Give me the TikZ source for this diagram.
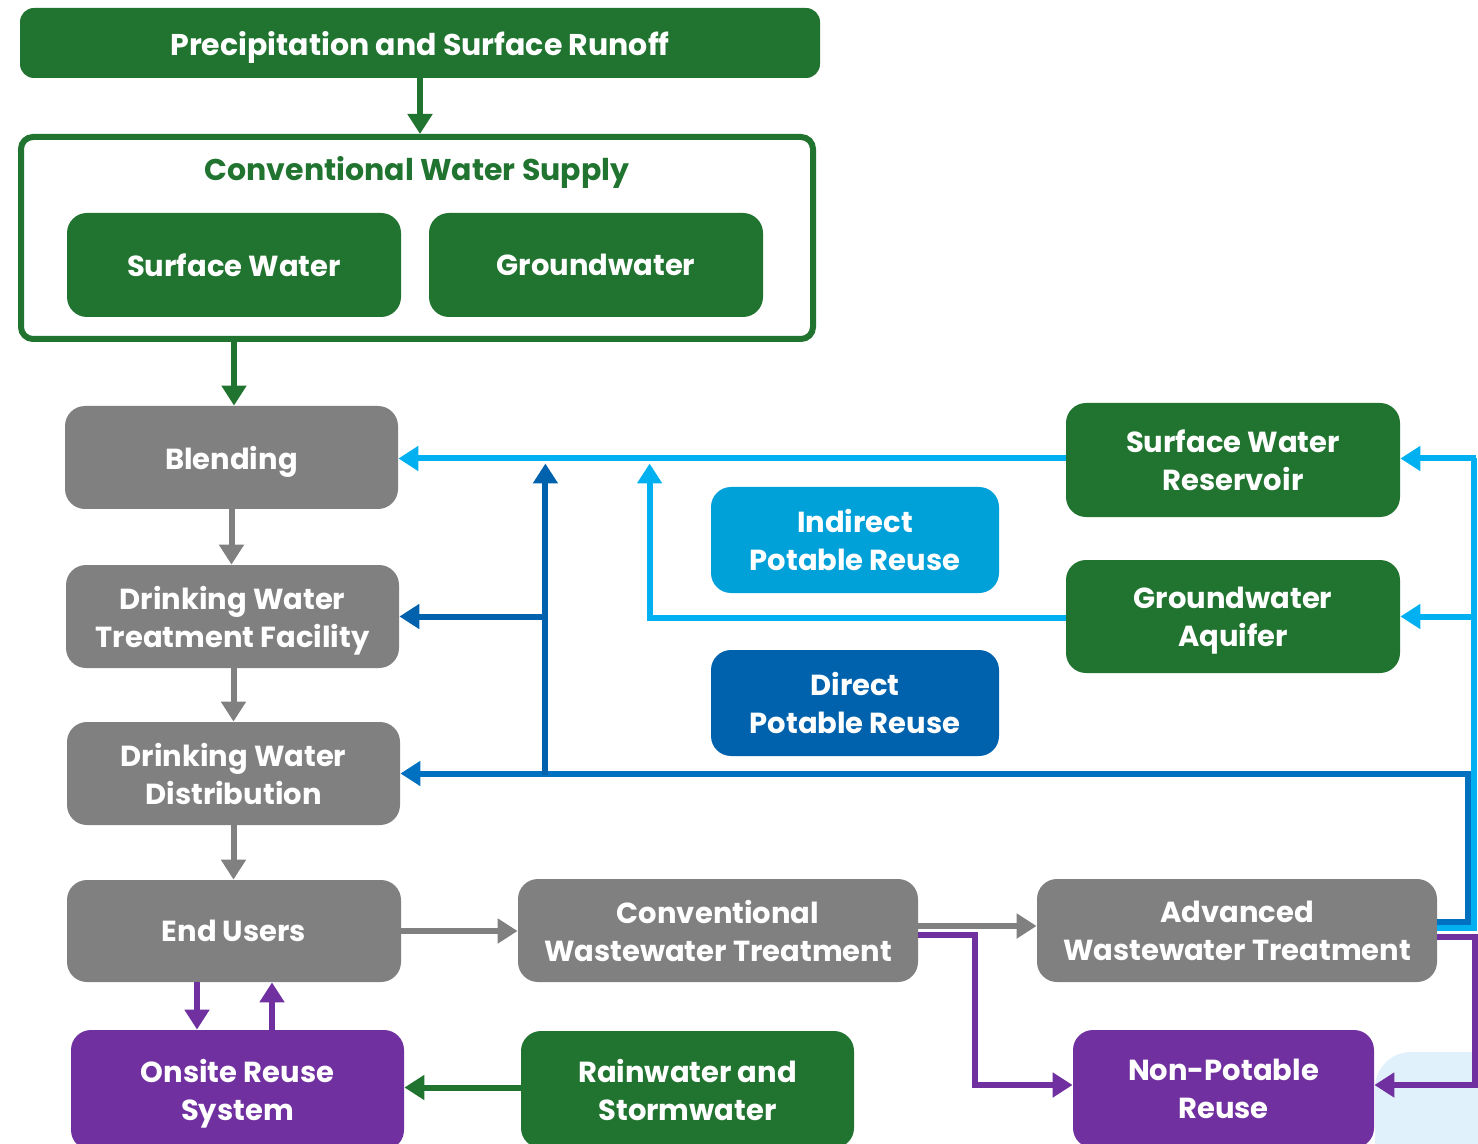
\documentclass[tikz,border=0pt]{standalone}
\usepackage{fontspec}
\setmainfont{Poppins}
\usetikzlibrary{arrows.meta,calc}
\definecolor{dgreen}{HTML}{217330}
\definecolor{dgray}{HTML}{808080}
\definecolor{lblue}{HTML}{00B0F0}
\definecolor{mblue}{HTML}{0070C0}
\definecolor{dblue}{HTML}{0062AC}
\definecolor{iblue}{HTML}{00A0D8}
\definecolor{purp}{HTML}{7030A0}
\definecolor{pool}{HTML}{E0F1FB}
\tikzset{
  box/.style={rounded corners=10pt, text=white, align=center, inner sep=0pt,
    font=\fontsize{14.5}{19}\selectfont\bfseries, text depth=0pt},
  gbox/.style={box, fill=dgreen},
  graybox/.style={box, fill=dgray},
  pbox/.style={box, fill=purp},
  ln/.style={line width=3pt},
  arr/.style={ln, -{Triangle[length=10pt,width=12pt]}},
}
\begin{document}
\begin{tikzpicture}[x=0.5pt,y=-0.5pt]
\useasboundingbox (0,0) rectangle (1478,1144);
% pool
\fill[pool, rounded corners=18pt] (1375,1052) rectangle (1520,1220);
% top
\node[gbox, rounded corners=7pt, minimum width=400pt, minimum height=35pt, font=\fontsize{15}{19}\selectfont\bfseries] (precip) at (420,43) {Precipitation and Surface Runoff};
\node[draw=dgreen, line width=3pt, rounded corners=6pt, minimum width=396pt, minimum height=101pt, inner sep=0pt] (conv) at (417,238) {};
\node[text=dgreen, font=\fontsize{15}{19}\selectfont\bfseries, inner sep=0pt] (convt) at (417,172) {Conventional Water Supply};
\node[gbox, minimum width=167pt, minimum height=52pt] (sw) at (234,265) {Surface Water};
\node[gbox, minimum width=167pt, minimum height=52pt] (gw) at (596,265) {Groundwater};
% left column
\node[graybox, minimum width=166.5pt, minimum height=51.5pt] (blend) at (231.5,457.5) {Blending};
\node[graybox, minimum width=166.5pt, minimum height=51.5pt] (dwtf) at (232.5,616.5) {Drinking Water\\Treatment Facility};
\node[graybox, minimum width=166.5pt, minimum height=51.5pt] (dwd) at (233.5,773.5) {Drinking Water\\Distribution};
\node[graybox, minimum width=167pt, minimum height=51pt] (eu) at (234,931) {End Users};
\node[pbox, minimum width=166.5pt, minimum height=60pt] (onsite) at (237.5,1090) {Onsite Reuse\\System};
\node[gbox, minimum width=166.5pt, minimum height=58.5pt] (rain) at (687.5,1089.5) {Rainwater and\\Stormwater};
\node[graybox, minimum width=200pt, minimum height=51.5pt] (cwt) at (718,930.5) {Conventional\\Wastewater Treatment};
\node[graybox, minimum width=200pt, minimum height=51.5pt] (awt) at (1237,930.5) {Advanced\\Wastewater Treatment};
\node[pbox, minimum width=150.5pt, minimum height=59pt] (npr) at (1223.5,1089) {Non-Potable\\Reuse};
\node[gbox, minimum width=167pt, minimum height=57pt] (swr) at (1233,460) {Surface Water\\Reservoir};
\node[gbox, minimum width=167pt, minimum height=56.5pt] (gwa) at (1233,616.5) {Groundwater\\Aquifer};
\node[box, fill=iblue, minimum width=144pt, minimum height=53pt] (ipr) at (855,540) {Indirect\\Potable Reuse};
\node[box, fill=dblue, minimum width=144pt, minimum height=53pt] (dpr) at (855,703) {Direct\\Potable Reuse};
% green arrows
\draw[arr, dgreen] (precip.south) -- (precip.south |- conv.north);
\draw[arr, dgreen] (conv.south -| blend.north) ++(2.5,0) coordinate (c1) -- (c1 |- blend.north);
\draw[arr, dgreen] ($(rain.west)+(0,-2)$) coordinate (r1) -- (r1 -| onsite.east);
% gray
\draw[arr, dgray] (blend.south) -- (blend.south |- dwtf.north);
\draw[arr, dgray] (dwtf.south) ++(1,0) coordinate (g1) -- (g1 |- dwd.north);
\draw[arr, dgray] (dwd.south) -- (dwd.south |- eu.north);
\draw[arr, dgray] (eu.east) -- (eu.east -| cwt.west);
\draw[arr, dgray] ($(cwt.east)+(0,-4.5)$) coordinate (g2) -- (g2 -| awt.west);
% purple
\coordinate (p1) at ($(eu.south)+(-37,0)$);
\draw[arr, purp] (p1) -- (p1 |- onsite.north);
\coordinate (p2) at ($(eu.south)+(38,0)$);
\draw[arr, purp] (p2 |- onsite.north) -- (p2);
\coordinate (p3) at ($(cwt.east)+(0,4.5)$);
\coordinate (p4) at ($(npr.west)+(0,-4)$);
\draw[arr, purp] (p3) -- ++(57,0) coordinate (p5) -- (p5 |- p4) -- (p4);
\coordinate (p6) at ($(awt.east)+(0,6.5)$);
\coordinate (p7) at ($(npr.east)+(0,-4)$);
\draw[arr, purp] (p6) -- ++(38,0) coordinate (p8) -- (p8 |- p7) -- (p7);
% light blue
\draw[arr, lblue] ($(swr.west)+(0,-1.5)$) coordinate (l1) -- (l1 -| blend.east);
\coordinate (l2) at ($(awt.east)+(0,-2.5)$);
\draw[ln, lblue] (l2) -- ++(37,0) coordinate (l3) -- (l3 |- l1) coordinate (l4);
\draw[arr, lblue] ($(l4)+(1.5,0)$) -- (l4 -| swr.east);
\draw[arr, lblue] (l3 |- gwa.east) -- (gwa.east);
\coordinate (l5) at ($(gwa.west)+(0,1)$);
\draw[arr, lblue] (l5) -- ++(-416,0) coordinate (l6) -- ($(l6 |- l1)+(0,5)$);
% blue
\coordinate (b1) at ($(awt.east)+(0,-8.5)$);
\draw[arr, mblue] (b1) -- ++(31,0) coordinate (b2) -- (b2 |- dwd.east) -- (dwd.east);
\coordinate (b3) at ($(dwd.east)+(145,0)$);
\draw[arr, dblue] ($(b3)+(0,1.5)$) -- ($(b3 |- l1)+(0,5)$);
\draw[arr, dblue] (b3 |- dwtf.east) -- (dwtf.east);
\end{tikzpicture}
\end{document}
